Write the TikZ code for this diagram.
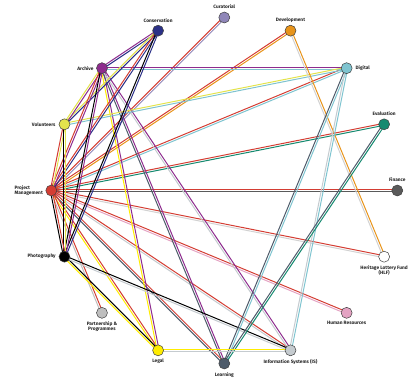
\documentclass[tikz,border=0pt]{standalone}
\usepackage{fontspec}
\setmainfont{Fira Sans}
\usetikzlibrary{calc,positioning}
\pgfdeclarelayer{bg}
\pgfsetlayers{bg,main}
\definecolor{cCu}{HTML}{8F86B8}
\definecolor{cCo}{HTML}{2B3087}
\definecolor{cDe}{HTML}{E8941A}
\definecolor{cAr}{HTML}{8E2C8E}
\definecolor{cDi}{HTML}{7FC4D0}
\definecolor{cVo}{HTML}{E3E34C}
\definecolor{cEv}{HTML}{168A70}
\definecolor{cPM}{HTML}{D43D33}
\definecolor{cFi}{HTML}{5A5A5A}
\definecolor{cPh}{HTML}{000000}
\definecolor{cHL}{HTML}{FFFFFF}
\definecolor{lHL}{HTML}{D2D2D2}
\definecolor{cPP}{HTML}{BEBEBE}
\definecolor{cHR}{HTML}{E4A3C3}
\definecolor{cLe}{HTML}{FFEC00}
\definecolor{cIS}{HTML}{C5CBCF}
\definecolor{cLn}{HTML}{4E5B6A}
\tikzset{
  dept/.style={circle, draw=black!75, line width=0.5pt, minimum size=11pt, inner sep=0pt},
  lbl/.style={font=\fontsize{4.8}{5.4}\selectfont\bfseries, text=black!85, inner sep=0pt, align=center},
  wire/.style={line width=1pt},
}
\newcommand\lnk[4]{%
  \draw[wire, #3] ($(#1.center)!1pt!90:(#2.center)$) -- ($(#2.center)!1pt!-90:(#1.center)$);
  \draw[wire, #4] ($(#1.center)!1pt!-90:(#2.center)$) -- ($(#2.center)!1pt!90:(#1.center)$);
}
\begin{document}
\begin{tikzpicture}
\useasboundingbox (0,0) rectangle (420pt,383pt);
\coordinate (O) at (224.3pt,192.5pt);
\node[dept, fill=cCu] (Cu) at ($(O)+(90:173pt)$) {};
\node[dept, fill=cCo] (Co) at ($(O)+(112.5:173pt)$) {};
\node[dept, fill=cAr] (Ar) at ($(O)+(135:173pt)$) {};
\node[dept, fill=cVo] (Vo) at ($(O)+(157.5:173pt)$) {};
\node[dept, fill=cPM] (PM) at ($(O)+(180:173pt)$) {};
\node[dept, fill=cPh] (Ph) at ($(O)+(202.5:173pt)$) {};
\node[dept, fill=cPP] (PP) at ($(O)+(225:173pt)$) {};
\node[dept, fill=cLe] (Le) at ($(O)+(247.5:173pt)$) {};
\node[dept, fill=cLn] (Ln) at ($(O)+(270:173pt)$) {};
\node[dept, fill=cIS] (IS) at ($(O)+(292.5:173pt)$) {};
\node[dept, fill=cHR] (HR) at ($(O)+(315:173pt)$) {};
\node[dept, fill=cHL] (HL) at ($(O)+(337.5:173pt)$) {};
\node[dept, fill=cFi] (Fi) at ($(O)+(0:173pt)$) {};
\node[dept, fill=cEv] (Ev) at ($(O)+(22.5:173pt)$) {};
\node[dept, fill=cDi] (Di) at ($(O)+(45:173pt)$) {};
\node[dept, fill=cDe] (De) at ($(O)+(67.5:173pt)$) {};
% labels
\node[lbl, above=2.5pt of Cu] (lCu) {Curatorial};
\node[lbl, above=2.5pt of Co] (lCo) {Conservation};
\node[lbl, above=2.5pt of De] (lDe) {Development};
\node[lbl, left=2.5pt of Ar] (lAr) {Archive};
\node[lbl, right=3pt of Di] (lDi) {Digital};
\node[lbl, left=3pt of Vo] (lVo) {Volunteers};
\node[lbl, above=2.5pt of Ev] (lEv) {Evaluation};
\node[lbl, left=2.5pt of PM, align=left] (lPM) {Project\\Management};
\node[lbl, above=3pt of Fi] (lFi) {Finance};
\node[lbl, left=2.8pt of Ph] (lPh) {Photography};
\node[lbl, below=2.8pt of HL] (lHL) {Heritage Lottery Fund\\(HLF)};
\node[lbl, below=2.8pt of HR] (lHR) {Human Resources};
\node[lbl, below=2.8pt of PP] (lPP) {Partnership \&\\Programmes};
\node[lbl, below=3pt of Le] (lLe) {Legal};
\node[lbl, below=3pt of IS] (lIS) {Information Systems (IS)};
\node[lbl, below=3pt of Ln] (lLn) {Learning};
\begin{pgfonlayer}{bg}
\lnk{PM}{Cu}{cPM}{cCu}
\lnk{PM}{De}{cPM}{cDe}
\lnk{PM}{Di}{cPM}{cDi}
\lnk{PM}{Ev}{cPM}{cEv}
\lnk{PM}{Fi}{cPM}{cFi}
\lnk{PM}{HL}{cPM}{lHL}
\lnk{PM}{HR}{cPM}{cHR}
\lnk{PM}{IS}{cPM}{cIS}
\lnk{PM}{Ln}{cPM}{cLn}
\lnk{PM}{Le}{cPM}{cLe}
\lnk{PM}{PP}{cPM}{cPP}
\lnk{Ar}{Di}{cAr}{cDi}
\lnk{Ar}{Le}{cAr}{cLe}
\lnk{Ar}{Ln}{cAr}{cLn}
\lnk{Ar}{IS}{cAr}{cIS}
\lnk{Vo}{Di}{cVo}{cDi}
\lnk{Ph}{Le}{cPh}{cLe}
\lnk{Ph}{IS}{cPh}{cIS}
\lnk{De}{HL}{cDe}{lHL}
\lnk{Di}{Ln}{cDi}{cLn}
\lnk{Di}{IS}{cDi}{cIS}
\lnk{Ev}{Ln}{cEv}{cLn}
\lnk{Le}{IS}{cLe}{cIS}
\lnk{Co}{Ar}{cCo}{cAr}
\lnk{Co}{Vo}{cCo}{cVo}
\lnk{Co}{PM}{cCo}{cPM}
\lnk{Co}{Ph}{cCo}{cPh}
\lnk{Ar}{Vo}{cAr}{cVo}
\lnk{Ar}{PM}{cAr}{cPM}
\lnk{Ar}{Ph}{cAr}{cPh}
\lnk{Vo}{PM}{cVo}{cPM}
\lnk{Vo}{Ph}{cVo}{cPh}
\lnk{PM}{Ph}{cPM}{cPh}
\end{pgfonlayer}
\end{tikzpicture}
\end{document}
